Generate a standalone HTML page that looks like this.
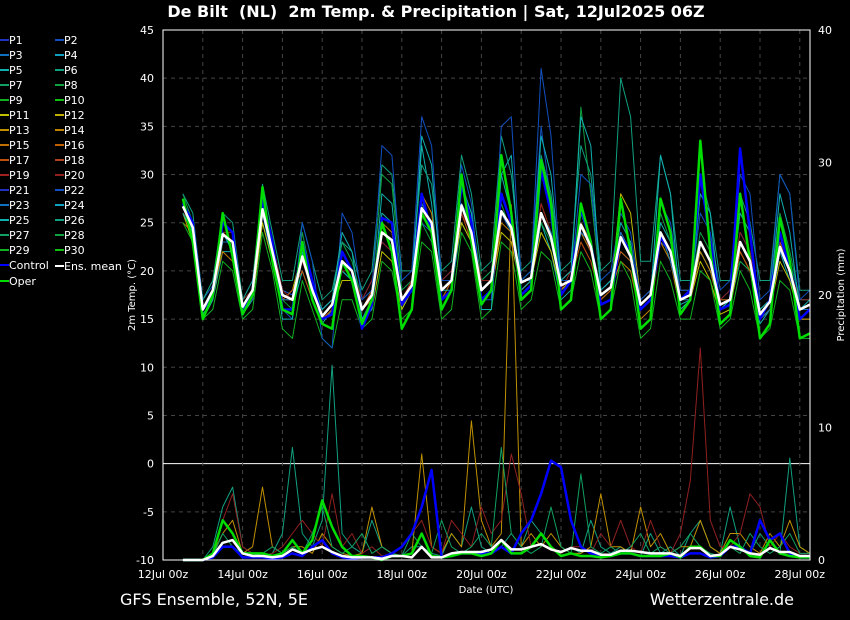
<!DOCTYPE html>
<html><head><meta charset="utf-8"><style>
html,body{margin:0;padding:0;background:#000;}
svg{display:block;font-family:"DejaVu Sans","Liberation Sans",sans-serif;}
</style></head><body>
<svg id="chart" width="850" height="620" viewBox="0 0 850 620" xmlns="http://www.w3.org/2000/svg">
<rect width="850" height="620" fill="#000"/>
<text x="436" y="17" fill="#fff" font-size="16" font-weight="bold" text-anchor="middle">De Bilt&#160; (NL)&#160; 2m Temp. &amp; Precipitation | Sat, 12Jul2025 06Z</text>
<g id="grid"></g>
<g id="series"></g>
<g id="axes"></g>
<g id="legend"></g>
<text x="120" y="605" fill="#fff" font-size="16">GFS Ensemble, 52N, 5E</text>
<text x="794" y="605" fill="#fff" font-size="16" text-anchor="end">Wetterzentrale.de</text>
</svg>
<script>
const tempTicks=[-10,-5,0,5,10,15,20,25,30,35,40,45];
const precTicks=[0,10,20,30,40];
const dayLabels=["12Jul 00z","14Jul 00z","16Jul 00z","18Jul 00z","20Jul 00z","22Jul 00z","24Jul 00z","26Jul 00z","28Jul 00z"];
const meanTemp=[26.7,24.5,16,18,23.8,23,16.3,18,26.4,22,17.5,17,21.5,18,15.3,16.5,21,20,16,17.5,24,23.2,17,18.5,26.5,25,18,19,26.8,24,18,19,26.2,24.5,18.8,19.3,26,23.5,18.5,19,24.8,22.5,17.5,18.3,23.5,21.5,16.5,17.5,24,22,17,17.5,23,21,16.5,17,23,21,15.5,16.8,22.5,20,16,16.5];
const operTemp=[27.5,23,15,17.5,26,21.5,15.5,17.5,28.7,21,16,15.5,23,17,14.5,14,21,19,14.5,17,25,22,14,16,26,24,16,18,30,23,16.5,18,32,26,17,18,31.5,27,16,17,27,23,15,16,27.5,22,14,15,27.5,24,15.5,17,33.5,22,14.5,15.5,28,21,13,14.5,25.5,21,13,13.5];
const ctrlTemp=[27,25,16,17.5,25,24,15.5,18,27.5,23,16,16,23,19,15,15.5,22,20,14,16.5,25.5,25,16.5,18,28,24,17,18,29,25,17,18,28,25,17.5,18.5,30.5,26,17.5,19,26.5,23,16.5,17,23.5,22,16,17,23.5,22,17,18,30,23,16,16.5,32.7,24,15,17,24,20,15,16];
const memberTemps=[
[27,25,17,18.5,24,22,17,19,27,23,18,17.5,22,19,16,17,20,19,17,19,23,22,18,19,25,24,19,20,27,25,19,20,28,25,19,20,35,27,19,19,24,22,18,19,22,21,17,18,23,22,18,18,22,20,17,18,24,22,16,17,23,21,17,17],
[26,24,15.5,17,22,22,15.5,17,25,21,16,16,20,17,14.5,16,20,19,15,17,26,25,16,18,33,27,17,18,25,23,17,18,30,26,18,19,25,22,17,18,26,23,17,18,24,22,16,17,25,23,16.5,17,22,20,16,16.5,21,20,14.5,16,22,19,15,15],
[28,25,17,19,25,24,17,18,27,22,17,16,24,19,16,17,23,21,17,18,30,29,18,19,25,23,18,19,29,26,19,20,27,24,19,20,25,23,18,19,37,28,18,19,22,21,17,18,26,23,18,18,24,22,17,17,21,20,16,17,26,22,17,17],
[26,23,15,17,23,23,16,17,25,21,17,18,22,18,15,16,19,19,15,16,22,21,16,18,27,25,17,19,25,23,17,18,24,23,18,19,24,22,18,19,25,23,17,18,28,26,17,18,24,21,16,17,21,19,15.5,16,22,20,15,16,21,19,15,15],
[25,24,16,18,22,21,15.5,18,26,22,17,17,22,18,15,16,21,20,16,17,25,24,17,19,28,26,18,19,27,24,17,18,25,24,18,19,27,24,19,20,24,22,17,18,21,20,15,16,23,21,16,17,22,20,16,17,23,21,15,16,22,20,15,15],
[27,24,16,18,24,23,16,18,26,22,17,18,20,17,15,16,22,20,16,18,24,23,17,19,26,24,17,19,26,23,18,19,26,24,18,19,26,24,19,19,23,21,17,18,22,21,16,17,24,22,17,17,23,21,17,17,22,20,15,16,23,20,16,16],
[26,25,16,17,24,24,17,18,27,23,18,17,21,18,16,17,20,20,17,19,23,22,17,19,26,25,19,20,26,24,19,19,26,25,19,19,27,24,18,20,25,22,18,19,24,22,17,18,24,22,18,18,23,21,17,18,24,22,16,17,22,20,17,17],
[27,24,16,18,23,23,16,18,26,21,17,17,22,18,16,17,21,19,15,17,24,23,17,18,27,25,18,19,27,24,18,19,26,24,19,19,26,24,19,19,24,23,18,19,24,22,17,18,24,21,17,17,23,21,16,17,23,21,15,16,22,20,16,16],
[28,26,17,19,26,25,17,19,29,24,19,19,25,21,17,18,23,22,18,20,31,30,20,20,31,29,20,21,32,28,20,21,34,30,20,21,32,28,20,21,33,30,20,21,40,36,21,21,32,28,19,19,30,26,19,19,28,25,19,19,30,28,18,18],
[25,23,15,16,21,20,15,16,24,20,14,13,19,16,13,12,17,17,14,15,21,20,15,16,23,22,15,16,24,22,15,16,23,22,16,17,22,21,16,17,22,20,15,16,21,19,13,14,21,19,15,15,20,19,14,15,20,18,13,14,19,18,13,13],
[27,25,16,18,25,24,16,17,27,23,16,15,25,21,13,12,26,24,17,18,33,32,19,20,36,33,19,19,31,27,17,17,35,36,19,20,41,34,19,19,30,29,19,20,26,24,17,18,27,25,18,18,26,24,18,19,30,28,17,18,30,28,17,18],
[26,24,15,17,24,22,16,18,28,22,15,15,22,18,16,17,24,22,15,16,28,27,17,18,34,31,18,18,29,26,16,16,30,32,18,19,34,30,19,20,36,33,18,19,25,23,16,17,32,28,16,17,28,26,16,17,26,24,16,17,28,24,16,17]
];
const meanPrec=[0,0,0,0.3,1.3,1.5,0.5,0.3,0.3,0.2,0.3,0.8,0.5,0.8,1.0,0.6,0.3,0.2,0.2,0.2,0.1,0.3,0.3,0.2,1.0,0.2,0.2,0.5,0.6,0.6,0.6,0.8,1.5,0.8,0.8,1.0,1.2,0.8,0.6,0.9,0.7,0.7,0.4,0.4,0.7,0.7,0.6,0.5,0.5,0.5,0.3,0.9,0.9,0.3,0.4,1.0,0.8,0.5,0.4,0.9,0.6,0.6,0.3,0.3];
const operPrec=[0,0,0,0.5,3,2,0.5,0.5,0.5,0.3,0.5,1.5,0.5,1.5,4.5,2.5,1,0.3,0.3,0.2,0,0.3,0.3,0.5,2,0.3,0.2,0.3,0.5,0.5,0.3,0.5,1.5,0.5,0.5,1,2,1,0.3,0.5,0.3,0.3,0.2,0.3,0.5,0.5,0.3,0.3,0.3,0.5,0.2,1,1,0.3,0.3,1.5,1,0.3,0.2,1.5,0.5,0.3,0.2,0.2];
const ctrlPrec=[0,0,0,0.2,1,1,0.2,0.2,0.2,0.1,0.2,0.5,0.3,1,1.5,0.5,0.2,0.1,0.2,0.2,0.2,0.5,1,2,4,6.8,0.2,0.3,0.5,0.5,0.5,0.5,1,0.5,2,3,5,7.5,7,3,1,0.5,0.3,0.3,0.5,0.5,0.3,0.3,0.3,0.3,0.2,0.5,0.5,0.2,0.3,1,1,0.5,3,1.5,2,0.5,0.2,0.2];
const memberPrecs=[
[0,0,0,1,4,5.5,1,0.5,0.3,0.5,2,8.5,2,1,3,14.7,2,1,0.5,3,1,0.5,0.3,1,1,0.5,0.3,2,1,4,1,0.5,1,2,1,3,2,1,0.5,1,0.5,3,1,0.5,1,0.5,0.3,2,0.5,1,0.3,2,3,1,0.5,4,1,0.5,2,1,0.5,7.7,1,0.5],
[0,0,0,0.5,2,3,0.5,1,5.5,1,0.5,1,1,0.5,2,1,0.5,0.3,0.5,4,1,0.5,0.3,0.5,8,1,0.5,2,1,10.5,3,1,2,26.8,1,2,1,2,1,0.5,0.5,1,5,1,1,0.5,4,1,2,0.5,1,1,3,1,0.5,2,2,1,0.5,2,1,3,1,0.5],
[0,0,0,0.5,3,5,1,0.5,0.3,0.5,1,2,3,2,1,5,1,2,0.5,1,0.3,0.5,1,2,3,1,0.5,3,2,1,4,2,3,8,5,1,2,1,0.5,1,1,0.5,2,1,3,1,0.5,3,1,0.5,2,6,16,3,1,1,2,5,4,1,2,1,0.5,0.5],
[0,0,0,0.3,2,1,0.5,0.3,0.5,1,0.5,1,0.5,2,4,1,0.5,1,2,0.5,1,0.5,0.3,2,1,0.5,3,1,0.5,1,2,1,8.5,2,1,0.5,1,4,1,0.5,6.5,1,0.5,1,0.5,1,2,0.5,1,0.5,1,2,1,0.5,0.3,1,0.5,2,1,0.5,1,2,0.5,0.5]
];
const memberColors=["#2030c0","#1050c0","#1070c0","#10a0c0","#10b0b0","#10a080","#10a060","#10a040","#10b020","#10c010","#c0c000","#c0b000","#c09000","#c08000","#c07000","#c06000","#c05010","#b04020","#a02020","#902020","#2030c0","#1050c0","#1070c0","#10a0c0","#10b0b0","#10a080","#10a060","#10a040","#10b020","#10c010"];

const NS="http://www.w3.org/2000/svg";
const L=163,R=810,T=30,B=560;
const xDay0=163,pxDay=39.8;
function xIdx(i){return xDay0+(i+2)*pxDay/4;}
function yT(v){return B-(v+10)*(B-T)/55;}
function yP(v){return B-v*(B-T)/40;}
function mk(tag,attrs,parent){const e=document.createElementNS(NS,tag);for(const k in attrs)e.setAttribute(k,attrs[k]);parent.appendChild(e);return e;}
const grid=document.getElementById('grid'),series=document.getElementById('series'),axes=document.getElementById('axes'),legend=document.getElementById('legend');

tempTicks.forEach(t=>{
  const g=mk('line',{x1:L,x2:R,y1:yT(t),y2:yT(t),stroke:t===0?'#fff':'#444','stroke-dasharray':t===0?'':'4,4','stroke-width':1},grid);
  
  
  const tx=mk('text',{x:154,y:yT(t)+4,fill:'#fff','font-size':11,'text-anchor':'end'},axes);
  tx.textContent=t;
  
  
});
for(let d=1;d<=16;d++){
  const gl=mk('line',{x1:xDay0+d*pxDay,x2:xDay0+d*pxDay,y1:T,y2:B,stroke:'#444','stroke-dasharray':'4,4'},grid);
  
  
}
precTicks.forEach(p=>{
  const tx=mk('text',{x:818,y:yP(p)+4,fill:'#fff','font-size':11},axes);
  tx.textContent=p;
  
  
});
dayLabels.forEach((s,i)=>{
  const tx=mk('text',{x:xDay0+i*2*pxDay,y:578,fill:'#fff','font-size':11,'text-anchor':'middle'},axes);
  tx.textContent=s;
  
  
});
function poly(arr,yf,color,w,name){
  const pts=arr.map((v,i)=>Math.min(xIdx(i),R).toFixed(1)+','+yf(v).toFixed(1)).join(' ');
  const p=mk('polyline',{points:pts,fill:'none',stroke:color,'stroke-width':w,'stroke-linejoin':'round'},series);
  
  
}
memberTemps.forEach((a,k)=>poly(a,yT,memberColors[(k*3+1)%30],1,'member-temp-line'));
memberPrecs.forEach((a,k)=>poly(a,yP,memberColors[(k*7+5)%30],1,'member-precip-line'));
poly(ctrlTemp,yT,'#0000ff',2.5,'control-temp-line');
poly(ctrlPrec,yP,'#0000ff',2.5,'control-precip-line');
poly(operTemp,yT,'#00dd00',2.5,'oper-temp-line');
poly(operPrec,yP,'#00dd00',2.5,'oper-precip-line');
poly(meanTemp,yT,'#fff',2.5,'mean-temp-line');
poly(meanPrec,yP,'#fff',2.5,'mean-precip-line');
const fr=mk('rect',{x:L,y:T,width:R-L,height:B-T,fill:'none',stroke:'#fff','stroke-width':1},axes);


const yl=mk('text',{x:0,y:0,fill:'#fff','font-size':10,'text-anchor':'middle',transform:'translate(135,295) rotate(-90)'},axes);
yl.textContent='2m Temp. (°C)';


const yl2=mk('text',{x:0,y:0,fill:'#fff','font-size':10,'text-anchor':'middle',transform:'translate(844,295) rotate(-90)'},axes);
yl2.textContent='Precipitation (mm)';


const xl=mk('text',{x:486,y:593,fill:'#fff','font-size':10,'text-anchor':'middle'},axes);
xl.textContent='Date (UTC)';



const entries=[];
for(let i=1;i<=30;i++)entries.push(['P'+i,memberColors[i-1]]);
entries.push(['Control','#0000ff'],['Ens. mean','#ffffff'],['Oper','#00dd00']);
entries.forEach((e,i)=>{
  const col=i%2,row=Math.floor(i/2);
  const x0=col?55:0,y0=40+row*15+(i>=31?1:0);
  const ln=mk('line',{x1:x0,x2:x0+9,y1:y0,y2:y0,stroke:e[1],'stroke-width':2},legend);
  
  
  const tx=mk('text',{x:x0+9,y:y0+4,fill:'#fff','font-size':11},legend);
  tx.textContent=e[0];
  
  
});
</script>
</body></html>
